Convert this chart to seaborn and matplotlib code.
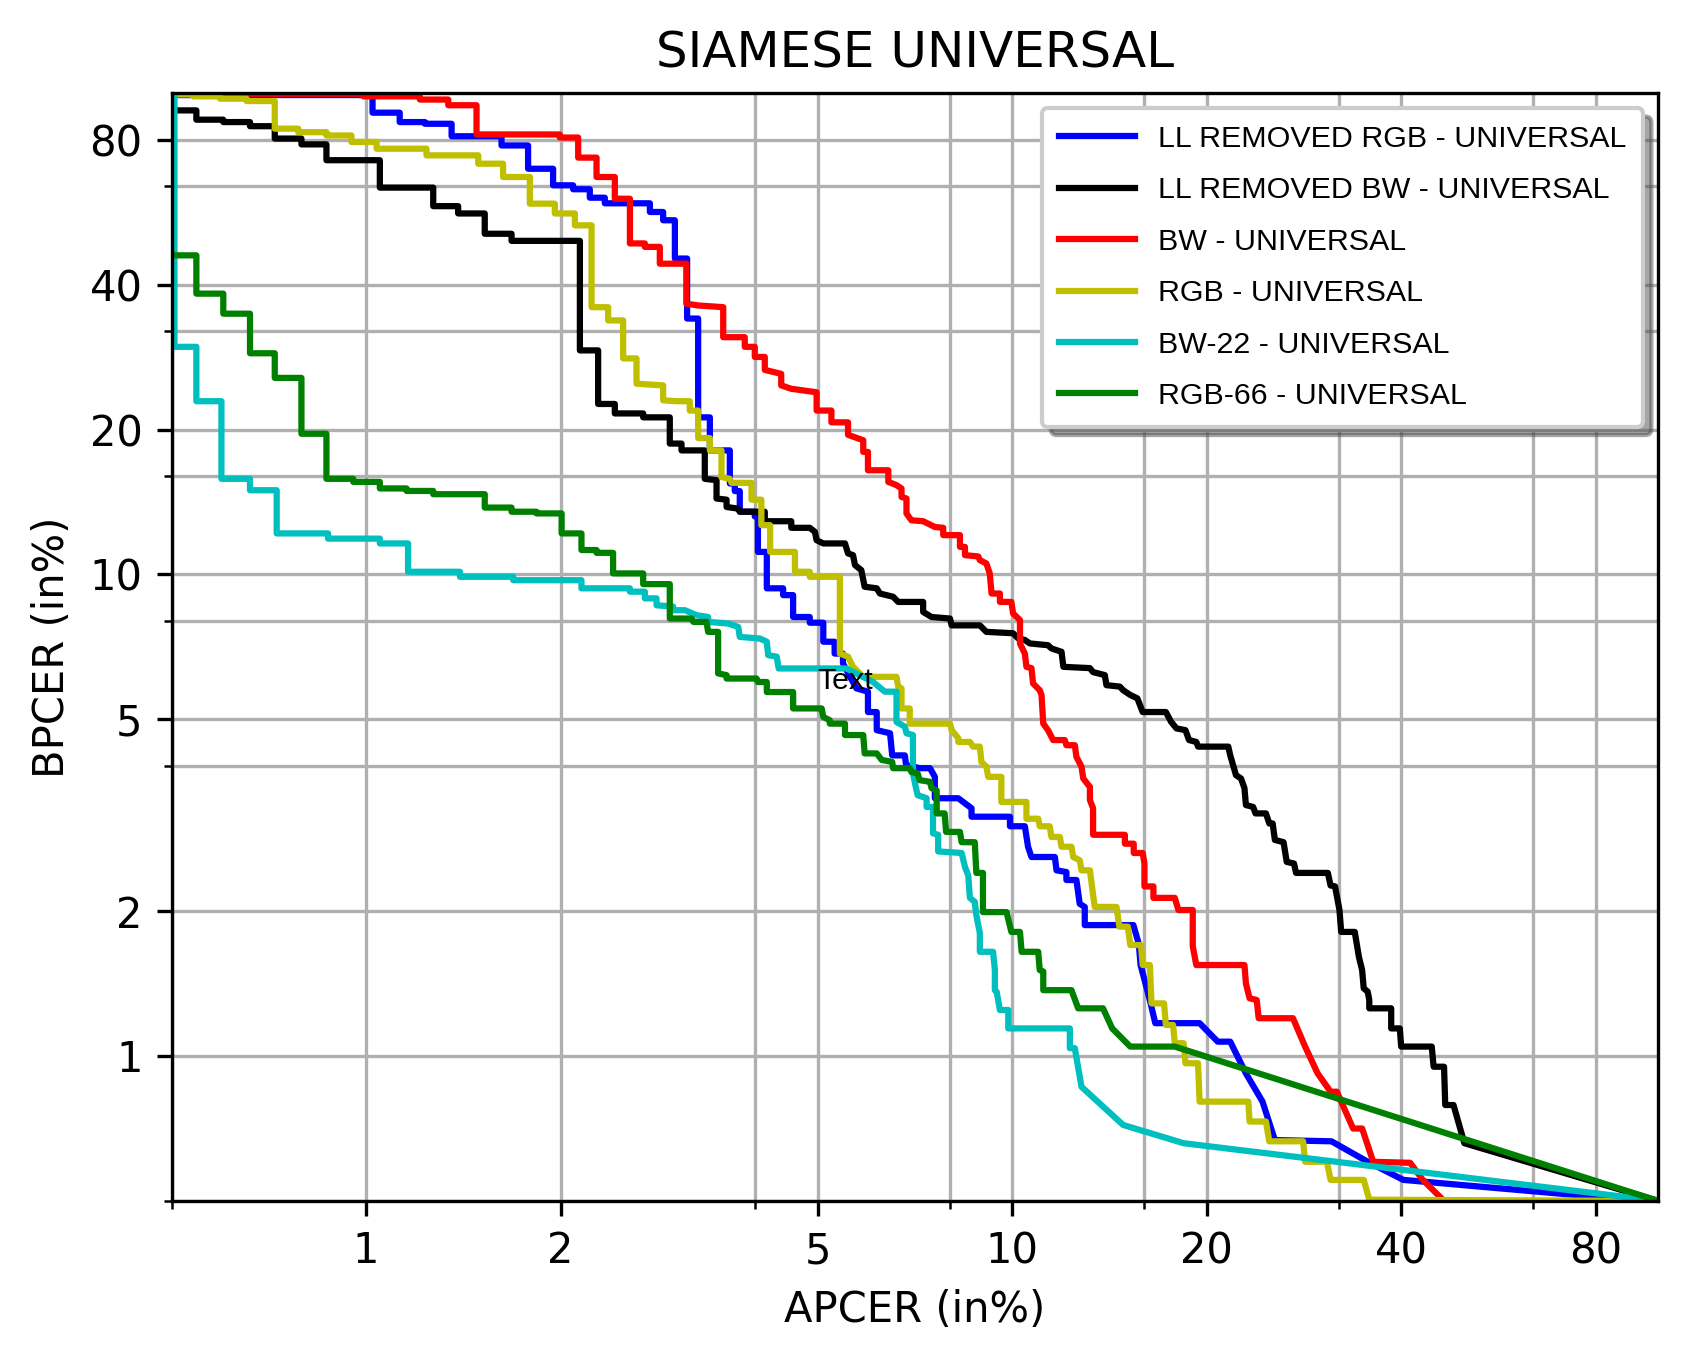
import pandas as pd
import matplotlib
matplotlib.use("Agg")
import matplotlib.pyplot as plt
from matplotlib.ticker import NullFormatter
import seaborn as sns

# ==============================
# DATA  (APCER %, BPCER %)
# ==============================

ll_rgb_pts = [
    (0.5, 99.0), (1.023, 99.0), (1.023, 91.0), (1.127, 91.0), (1.127, 87.0), (1.233, 87.0),
    (1.233, 86.3), (1.356, 86.3), (1.356, 81.3), (1.62, 81.3), (1.62, 77.8), (1.781, 77.8),
    (1.781, 69.6), (1.947, 69.6), (1.947, 64.3), (2.091, 64.3), (2.091, 63.1), (2.219, 63.1),
    (2.219, 60.6), (2.341, 60.6), (2.341, 59.0), (2.749, 59.0), (2.749, 56.6), (2.882, 56.6),
    (2.882, 54.4), (3.005, 54.4), (3.005, 45.3), (3.139, 45.3), (3.139, 34.0), (3.265, 34.0),
    (3.265, 21.2), (3.404, 21.2), (3.404, 18.1), (3.655, 18.1), (3.655, 15.45), (3.72, 15.45),
    (3.72, 14.9), (3.787, 14.9), (3.787, 13.5), (3.995, 13.5), (3.995, 13.2), (4.04, 13.2),
    (4.04, 11.14), (4.17, 11.14), (4.17, 9.36), (4.42, 9.36), (4.42, 9.06), (4.58, 9.06),
    (4.58, 8.16), (4.86, 8.16), (4.86, 7.94), (5.10, 7.94), (5.10, 7.25), (5.31, 7.25),
    (5.31, 6.85), (5.47, 6.85), (5.47, 6.54), (5.61, 6.13), (5.74, 5.80), (5.98, 5.71),
    (5.98, 5.18), (6.17, 5.18), (6.17, 4.75), (6.47, 4.68), (6.52, 4.21), (6.82, 4.21),
    (6.85, 4.02), (7.19, 3.96), (7.46, 3.96), (7.59, 3.80), (7.59, 3.43), (8.25, 3.43),
    (8.65, 3.27), (8.65, 3.14), (9.92, 3.14), (9.92, 3.00), (10.46, 3.00), (10.58, 2.72),
    (10.71, 2.59), (11.64, 2.59), (11.71, 2.43), (12.13, 2.41), (12.13, 2.32), (12.57, 2.32),
    (12.72, 2.07), (12.95, 2.04), (12.95, 1.87), (15.4, 1.87), (15.7, 1.71), (15.8, 1.545),
    (16.33, 1.307), (16.65, 1.17), (19.5, 1.17), (20.8, 1.071), (21.75, 1.071), (23.0, 0.92),
    (24.4, 0.804), (25.5, 0.669), (31.2, 0.665), (35.5, 0.603), (40.3, 0.553), (80.1, 0.51),
    (100, 0.5),
]

ll_bw_pts = [
    (0.5, 92.0), (0.546, 92.0), (0.546, 88.0), (0.601, 88.0), (0.601, 87.0), (0.661, 87.0),
    (0.661, 85.3), (0.722, 85.3), (0.722, 80.4), (0.794, 80.4), (0.794, 78.2), (0.868, 78.2),
    (0.868, 72.5), (1.050, 72.5), (1.050, 63.6), (1.270, 63.6), (1.270, 58.2), (1.388, 58.2),
    (1.388, 56.2), (1.526, 56.2), (1.526, 51.0), (1.679, 51.0), (1.679, 49.3), (2.142, 49.3),
    (2.142, 29.2), (2.286, 29.2), (2.286, 22.6), (2.426, 22.6), (2.426, 21.6), (2.684, 21.6),
    (2.684, 21.2), (2.951, 21.2), (2.951, 18.7), (3.077, 18.7), (3.077, 18.1), (3.343, 18.1),
    (3.343, 15.8), (3.486, 15.7), (3.486, 14.38), (3.613, 14.3), (3.613, 13.81), (3.766, 13.7),
    (3.787, 13.5), (4.14, 13.5), (4.14, 12.9), (4.55, 12.9), (4.55, 12.5), (4.86, 12.5),
    (4.95, 12.26), (4.98, 11.78), (5.10, 11.6), (5.51, 11.6), (5.57, 11.06), (5.67, 10.97),
    (5.71, 10.46), (5.84, 10.21), (5.91, 9.43), (6.17, 9.36), (6.24, 9.13), (6.54, 8.99),
    (6.66, 8.77), (7.28, 8.77), (7.28, 8.36), (7.50, 8.16), (8.01, 8.10), (8.06, 7.84),
    (8.91, 7.84), (9.12, 7.60), (10.03, 7.55), (10.21, 7.37), (10.46, 7.31), (10.65, 7.19),
    (11.36, 7.13), (11.5, 7.02), (11.92, 6.91), (12.0, 6.43), (13.19, 6.39), (13.34, 6.27),
    (13.91, 6.18), (13.99, 5.89), (14.67, 5.85), (14.85, 5.75), (15.23, 5.62), (15.62, 5.53),
    (15.92, 5.18), (17.29, 5.18), (17.62, 4.94), (17.96, 4.79), (18.54, 4.75), (18.78, 4.53),
    (19.27, 4.49), (19.4, 4.39), (21.6, 4.39), (21.75, 4.21), (22.0, 3.99), (22.2, 3.83),
    (22.6, 3.77), (22.88, 3.60), (23.0, 3.32), (23.6, 3.29), (23.8, 3.19), (24.7, 3.19),
    (25.0, 3.04), (25.3, 3.04), (25.5, 2.81), (26.3, 2.78), (26.6, 2.53), (27.3, 2.51),
    (27.5, 2.40), (30.8, 2.40), (31.1, 2.26), (31.6, 2.25), (32.1, 2.01), (32.3, 1.81),
    (33.9, 1.81), (34.4, 1.607), (34.8, 1.508), (35.0, 1.382), (35.5, 1.36), (35.7, 1.307),
    (35.7, 1.256), (38.6, 1.256), (38.6, 1.141), (39.8, 1.141), (40.0, 1.046), (44.6, 1.046),
    (44.9, 0.950), (46.6, 0.950), (46.8, 0.791), (48.2, 0.791), (50.1, 0.659), (100, 0.5),
]

bw_pts = [
    (0.5, 99.6), (0.99, 99.6), (0.99, 98.4), (1.211, 98.4), (1.211, 96.9), (1.340, 96.9),
    (1.340, 94.3), (1.482, 94.3), (1.482, 82.0), (1.994, 82.0), (1.994, 80.8), (2.129, 80.8),
    (2.129, 73.4), (2.273, 73.4), (2.273, 66.9), (2.426, 66.9), (2.426, 60.3), (2.56, 60.3),
    (2.56, 48.7), (2.70, 48.7), (2.70, 47.9), (2.848, 47.9), (2.848, 44.2), (3.13, 44.2),
    (3.13, 36.5), (3.265, 36.2), (3.57, 35.9), (3.57, 31.1), (3.855, 31.1), (3.855, 29.7),
    (3.995, 29.7), (3.995, 28.3), (4.14, 28.3), (4.14, 26.6), (4.39, 26.1), (4.39, 24.7),
    (4.55, 24.3), (4.98, 23.9), (4.98, 21.9), (5.25, 21.9), (5.25, 20.7), (5.57, 20.7),
    (5.57, 19.5), (5.88, 19.0), (5.88, 17.97), (5.98, 17.97), (5.98, 16.46), (6.43, 16.46),
    (6.43, 15.57), (6.62, 15.33), (6.74, 15.09), (6.74, 14.49), (6.86, 14.38), (6.86, 13.39),
    (6.98, 12.96), (7.28, 12.9), (7.59, 12.55), (7.82, 12.5), (7.82, 12.07), (8.30, 12.07),
    (8.30, 11.41), (8.45, 11.41), (8.45, 10.97), (8.86, 10.9), (8.91, 10.71), (9.12, 10.54),
    (9.23, 10.05), (9.29, 9.13), (9.57, 9.13), (9.57, 8.77), (9.97, 8.77), (10.03, 8.30),
    (10.28, 8.04), (10.28, 7.19), (10.46, 6.85), (10.52, 6.43), (10.71, 6.39), (10.77, 5.94),
    (11.03, 5.75), (11.10, 5.62), (11.17, 4.90), (11.36, 4.75), (11.57, 4.53), (12.06, 4.53),
    (12.13, 4.42), (12.50, 4.42), (12.57, 4.18), (12.80, 3.99), (12.88, 3.77), (13.19, 3.62),
    (13.19, 3.40), (13.34, 3.27), (13.34, 2.88), (14.94, 2.88), (14.94, 2.76), (15.42, 2.76),
    (15.42, 2.64), (15.92, 2.64), (16.02, 2.51), (16.02, 2.25), (16.54, 2.25), (16.54, 2.13),
    (17.85, 2.13), (18.08, 2.01), (19.03, 2.01), (19.03, 1.69), (19.27, 1.545), (22.88, 1.545),
    (23.0, 1.415), (23.3, 1.318), (23.9, 1.307), (24.07, 1.198), (27.2, 1.198), (28.4, 1.046),
    (29.7, 0.92), (31.1, 0.843), (31.8, 0.843), (33.7, 0.707), (34.8, 0.707), (36.2, 0.603),
    (41.3, 0.60), (43.2, 0.553), (46.4, 0.503), (48.0, 0.48),
]

rgb_pts = [
    (0.5, 99.3), (0.540, 99.3), (0.540, 98.4), (0.594, 98.4), (0.594, 97.3), (0.653, 97.3),
    (0.653, 96.2), (0.722, 96.2), (0.722, 84.3), (0.785, 84.3), (0.785, 82.9), (0.868, 82.9),
    (0.868, 81.6), (0.949, 81.6), (0.949, 79.1), (1.038, 79.1), (1.038, 76.6), (1.240, 76.6),
    (1.240, 74.2), (1.491, 74.2), (1.491, 71.3), (1.629, 71.3), (1.629, 66.9), (1.792, 66.9),
    (1.792, 58.9), (1.959, 58.9), (1.959, 56.2), (2.104, 56.2), (2.104, 53.1), (2.233, 53.1),
    (2.233, 35.9), (2.369, 35.9), (2.369, 33.7), (2.499, 33.7), (2.499, 28.1), (2.621, 28.1),
    (2.621, 24.9), (2.882, 24.7), (2.882, 23.0), (3.023, 22.9), (3.169, 22.9), (3.169, 21.9),
    (3.265, 21.9), (3.265, 19.2), (3.404, 19.2), (3.404, 18.1), (3.548, 18.1), (3.548, 15.94),
    (3.655, 15.8), (3.678, 15.5), (3.949, 15.5), (3.949, 14.3), (4.09, 14.3), (4.09, 12.66),
    (4.22, 12.66), (4.22, 11.14), (4.61, 11.14), (4.61, 10.13), (4.86, 10.13), (4.86, 9.89),
    (5.41, 9.89), (5.41, 6.85), (5.57, 6.75), (5.67, 6.43), (5.88, 6.13), (6.62, 6.13),
    (6.66, 5.85), (6.74, 5.80), (6.74, 5.27), (6.94, 5.27), (6.94, 4.90), (8.01, 4.90),
    (8.06, 4.75), (8.25, 4.57), (8.25, 4.49), (8.60, 4.49), (8.70, 4.39), (8.91, 4.39),
    (8.96, 4.08), (9.12, 3.99), (9.18, 3.80), (9.62, 3.80), (9.62, 3.37), (10.52, 3.37),
    (10.52, 3.11), (10.97, 3.11), (11.03, 3.00), (11.43, 3.00), (11.5, 2.85), (11.85, 2.85),
    (11.92, 2.72), (12.35, 2.72), (12.43, 2.59), (12.72, 2.55), (12.80, 2.43), (13.19, 2.43),
    (13.34, 2.16), (13.42, 2.04), (14.5, 2.04), (14.65, 1.856), (15.1, 1.856), (15.23, 1.70),
    (15.82, 1.70), (15.92, 1.545), (16.33, 1.545), (16.43, 1.286), (17.18, 1.286), (17.29, 1.16),
    (17.74, 1.16), (17.85, 1.063), (18.42, 1.063), (18.54, 0.966), (19.39, 0.966), (19.5, 0.804),
    (23.2, 0.804), (23.3, 0.731), (24.7, 0.731), (25.0, 0.665), (28.2, 0.665), (28.4, 0.603),
    (30.7, 0.603), (31.1, 0.553), (35.0, 0.553), (35.7, 0.503), (100, 0.5),
]

bw22_pts = [
    (0.505, 100), (0.505, 29.7), (0.546, 29.7), (0.546, 22.9), (0.597, 22.9), (0.597, 15.8),
    (0.661, 15.8), (0.661, 14.96), (0.727, 14.96), (0.727, 12.17), (0.873, 12.17), (0.873, 11.87),
    (1.050, 11.87), (1.050, 11.6), (1.161, 11.6), (1.161, 10.13), (1.397, 10.13), (1.397, 9.89),
    (1.689, 9.89), (1.689, 9.73), (2.154, 9.73), (2.154, 9.36), (2.56, 9.36), (2.56, 9.21),
    (2.70, 9.21), (2.70, 8.92), (2.815, 8.92), (2.815, 8.63), (2.986, 8.58), (2.986, 8.43),
    (3.114, 8.43), (3.247, 8.23), (3.383, 8.16), (3.383, 7.97), (3.633, 7.91), (3.766, 7.78),
    (3.787, 7.42), (4.07, 7.36), (4.17, 7.25), (4.19, 6.80), (4.32, 6.75), (4.35, 6.38),
    (5.54, 6.38), (6.09, 5.98), (6.35, 5.71), (6.62, 5.71), (6.62, 4.94), (6.82, 4.83),
    (6.86, 4.68), (7.02, 4.64), (7.02, 3.86), (7.11, 3.56), (7.14, 3.48), (7.37, 3.43),
    (7.37, 3.29), (7.54, 3.29), (7.54, 2.90), (7.68, 2.88), (7.68, 2.66), (8.35, 2.64),
    (8.45, 2.47), (8.55, 2.37), (8.60, 2.13), (8.75, 2.09), (8.80, 1.96), (8.91, 1.80),
    (8.91, 1.646), (9.34, 1.646), (9.40, 1.508), (9.40, 1.37), (9.46, 1.36), (9.57, 1.246),
    (9.86, 1.246), (9.86, 1.141), (12.28, 1.141), (12.28, 1.038), (12.50, 1.038), (12.80, 0.863),
    (14.85, 0.719), (18.42, 0.659), (100, 0.5),
]

rgb66_pts = [
    (0.5, 46.0), (0.546, 46.0), (0.546, 38.3), (0.601, 38.3), (0.601, 34.8), (0.661, 34.8),
    (0.661, 28.8), (0.722, 28.8), (0.722, 25.6), (0.794, 25.6), (0.794, 19.6), (0.868, 19.6),
    (0.868, 15.8), (0.955, 15.8), (0.955, 15.57), (1.050, 15.57), (1.050, 15.09), (1.155, 15.09),
    (1.155, 14.91), (1.270, 14.91), (1.270, 14.68), (1.526, 14.68), (1.526, 13.77), (1.679, 13.77),
    (1.679, 13.5), (1.835, 13.5), (1.835, 13.39), (2.007, 13.39), (2.007, 12.17), (2.154, 12.17),
    (2.154, 11.24), (2.273, 11.24), (2.273, 11.09), (2.411, 11.09), (2.411, 10.05), (2.684, 10.05),
    (2.684, 9.55), (2.951, 9.55), (2.951, 8.10), (3.189, 8.10), (3.21, 7.97), (3.364, 7.97),
    (3.383, 7.60), (3.506, 7.60), (3.506, 6.23), (3.613, 6.18), (3.613, 6.08), (4.02, 6.08),
    (4.04, 5.98), (4.17, 5.98), (4.17, 5.70), (4.58, 5.70), (4.58, 5.27), (5.07, 5.27),
    (5.10, 5.06), (5.22, 4.98), (5.22, 4.90), (5.51, 4.90), (5.51, 4.64), (5.88, 4.64),
    (5.91, 4.25), (6.17, 4.25), (6.28, 4.12), (6.52, 4.08), (6.54, 3.96), (6.94, 3.96),
    (6.98, 3.89), (7.14, 3.86), (7.19, 3.74), (7.46, 3.71), (7.50, 3.60), (7.64, 3.56),
    (7.64, 3.19), (7.86, 3.19), (7.90, 2.92), (8.30, 2.92), (8.35, 2.78), (8.75, 2.78),
    (8.80, 2.40), (9.01, 2.40), (9.01, 1.99), (9.80, 1.99), (9.97, 1.81), (10.28, 1.81),
    (10.34, 1.646), (10.97, 1.646), (11.03, 1.508), (11.17, 1.498), (11.17, 1.37), (12.35, 1.37),
    (12.65, 1.256), (13.82, 1.256), (14.28, 1.141), (15.23, 1.046), (17.85, 1.046), (100, 0.5),
]

labels = [
    "LL REMOVED RGB - UNIVERSAL",
    "LL REMOVED BW - UNIVERSAL",
    "BW - UNIVERSAL",
    "RGB - UNIVERSAL",
    "BW-22 - UNIVERSAL",
    "RGB-66 - UNIVERSAL",
]
curves = [ll_rgb_pts, ll_bw_pts, bw_pts, rgb_pts, bw22_pts, rgb66_pts]
colors = ["b", "k", "r", "y", "c", "g"]

major_ticks = [1, 2, 5, 10, 20, 40, 80]
minor_ticks = [0.5, 4, 8, 16, 32, 64]

# ==============================
# PLOT
# ==============================

fig = plt.figure(figsize=(1688 / 300, 1361 / 300), dpi=300)
ax = fig.add_axes([0.1017, 0.1176, 0.8807, 0.8141])

for label, pts, color in zip(labels, curves, colors):
    df = pd.DataFrame(pts, columns=["APCER", "BPCER"])
    sns.lineplot(data=df, x="APCER", y="BPCER", sort=False, estimator=None,
                 color=color, lw=1.5, label=label, ax=ax)

ax.set_xscale("log")
ax.set_yscale("log")
ax.set_xlim(0.5, 100)
ax.set_ylim(0.5, 100)

for axis in (ax.xaxis, ax.yaxis):
    axis.set_ticks(major_ticks)
    axis.set_ticklabels([str(t) for t in major_ticks])
    axis.set_ticks(minor_ticks, minor=True)
    axis.set_minor_formatter(NullFormatter())

ax.grid(True, which="both")
ax.set_axisbelow(True)

ax.set_title("SIAMESE UNIVERSAL", fontsize=12)
ax.set_xlabel("APCER (in%)", fontsize=10)
ax.set_ylabel("BPCER (in%)", fontsize=10)

ax.text(5, 6, "Text", fontsize=7.3, family="Liberation Sans", va="center")

ax.legend(loc="upper right", prop={"family": "Liberation Sans", "size": 7.3},
          handlelength=2.5, handletextpad=0.75, labelspacing=0.77, borderpad=0.55,
          shadow=True, fancybox=True, framealpha=1)

fig.savefig("out.png", dpi=300)
